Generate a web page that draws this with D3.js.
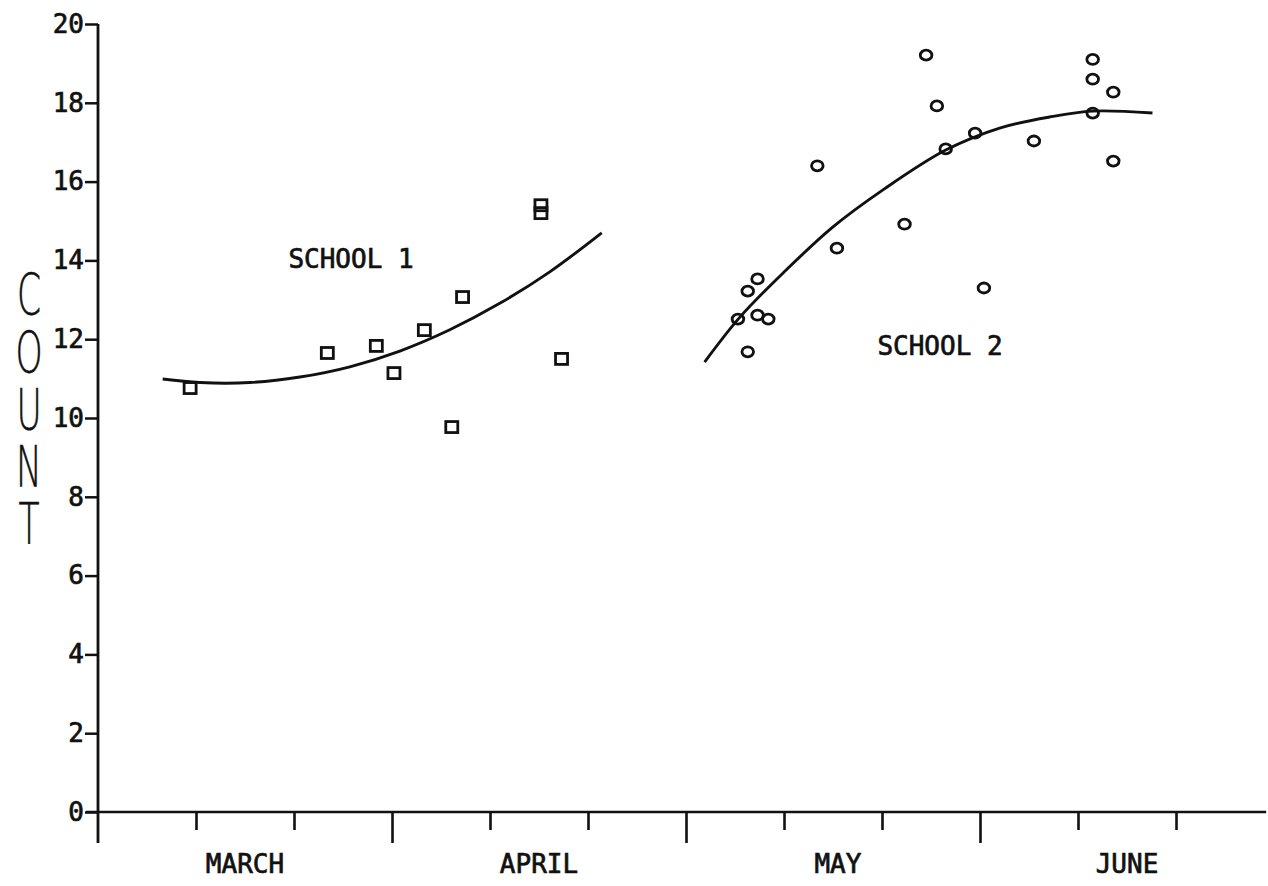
<!DOCTYPE html>
<html>
<head>
<meta charset="utf-8">
<script src="https://cdnjs.cloudflare.com/ajax/libs/d3/7.8.5/d3.min.js"></script>
<style>
	body{margin:0;background:#fff;}
	svg{display:block;}
	.tickLabel{font-family:"DejaVu Sans Mono",monospace;font-size:26px;fill:#111;stroke:#111;stroke-width:0.7px;}
	.yLabel{font-family:"DejaVu Sans",sans-serif;font-weight:200;font-size:57.5px;fill:#111;stroke:#111;stroke-width:0.6px;
		writing-mode:vertical-rl;text-orientation:upright;letter-spacing:-9.5px;}
</style>
</head>
<body>
<svg id="chart"></svg>
<script>
// x is in days from the start of March, y is the count
var yTicks = [0,2,4,6,8,10,12,14,16,18,20];
var xMinorTicks = [10,20,40,50,70,80,100,110];
var xMajorTicks = [30,60,90];
var months = ["MARCH","APRIL","MAY","JUNE"];
var monthDays = [15,45,75.5,105];

var school1Day = [9.4,23.4,28.4,30.2,33.3,37.2,36.1,45.2,45.2,47.3];
var school1Count = [10.76,11.65,11.83,11.14,12.23,13.07,9.77,15.4,15.2,11.5];
var school1FitDay = [6.6,10.4,15.5,20.6,25.7,30.8,35.9,41.0,46.1,51.4];
var school1FitCount = [10.99,10.90,10.90,11.04,11.30,11.70,12.24,12.91,13.71,14.70];

var school2Day = [84.5,101.5,101.5,103.6,85.6,101.5,89.5,95.5,86.5,103.6,73.4,82.3,75.4,90.4,67.3,66.3,67.3,68.4,65.3,66.3];
var school2Count = [19.21,19.1,18.6,18.27,17.92,17.74,17.23,17.03,16.83,16.52,16.40,14.92,14.31,13.30,13.53,13.22,12.61,12.51,12.51,11.68];
var school2FitDay = [61.9,65.5,69.9,75.0,80.1,86.5,92.0,97.1,101.5,107.6];
var school2FitCount = [11.42,12.56,13.68,14.85,15.79,16.80,17.36,17.64,17.79,17.74];

var Chart = (function(){
	var width = 1268, height = 886, svg, x, y;

	var setup = function(){
		svg = d3.select("#chart").attr("width",width).attr("height",height);
		x = d3.scaleLinear().domain([0,120]).range([98,1274]);
		y = d3.scaleLinear().domain([0,20]).range([812,24]);
	}

	var zip = function(xs,ys){
		return xs.map(function(d,i){ return {x:d,y:ys[i]}; });
	}

	var drawAxes = function(){
		var yAxis = svg.append("g")
			.attr("transform","translate("+x(0)+",0)")
			.call(d3.axisLeft(y).tickValues(yTicks).tickSize(13).tickPadding(1).tickFormat(d3.format("d")));
		yAxis.select(".domain").remove();
		yAxis.selectAll("line").attr("stroke","#111").attr("stroke-width",2.5);
		yAxis.selectAll("text").attr("class","tickLabel").attr("font-size",null).attr("font-family",null);

		svg.append("line")
			.attr("x1",x(0)).attr("x2",x(0))
			.attr("y1",y(20)).attr("y2",y(0)+31)
			.attr("stroke","#111").attr("stroke-width",2.8);

		svg.append("line")
			.attr("x1",x(0)-12).attr("x2",x(119.2))
			.attr("y1",y(0)).attr("y2",y(0))
			.attr("stroke","#111").attr("stroke-width",2.6);

		[[xMinorTicks,18],[xMajorTicks,31]].forEach(function(t){
			var g = svg.append("g")
				.attr("transform","translate(0,"+y(0)+")")
				.call(d3.axisBottom(x).tickValues(t[0]).tickSize(t[1]).tickFormat(""));
			g.select(".domain").remove();
			g.selectAll("line").attr("stroke","#111").attr("stroke-width",2.6);
		});

		svg.selectAll(".month")
			.data(months)
			.enter()
			.append("text")
			.attr("class","tickLabel")
			.attr("x",function(d,i){ return x(monthDays[i]); })
			.attr("y",873)
			.attr("text-anchor","middle")
			.text(function(d){ return d; });

		// vertical upright text, one element
		svg.append("text")
			.attr("class","yLabel")
			.attr("transform","translate(29,262) scale(0.6,1)")
			.attr("x",0).attr("y",0)
			.text("COUNT");
	}

	var drawFit = function(data){
		var line = d3.line()
			.x(function(d){ return x(d.x); })
			.y(function(d){ return y(d.y); })
			.curve(d3.curveCatmullRom);
		svg.append("path")
			.attr("d",line(data))
			.attr("fill","none")
			.attr("stroke","#111")
			.attr("stroke-width",2.9);
	}

	var drawPoints = function(){
		svg.selectAll(".sq")
			.data(zip(school1Day,school1Count))
			.enter()
			.append("rect")
			.attr("x",function(d){ return x(d.x)-6; })
			.attr("y",function(d){ return y(d.y)-5.5; })
			.attr("width",12).attr("height",11)
			.attr("fill","none").attr("stroke","#111").attr("stroke-width",2.8);

		svg.selectAll(".circ")
			.data(zip(school2Day,school2Count))
			.enter()
			.append("ellipse")
			.attr("cx",function(d){ return x(d.x); })
			.attr("cy",function(d){ return y(d.y); })
			.attr("rx",5.8).attr("ry",5)
			.attr("fill","none").attr("stroke","#111").attr("stroke-width",2.8);
	}

	var drawLabels = function(){
		svg.append("text").attr("class","tickLabel")
			.attr("x",351).attr("y",y(13.8)).attr("text-anchor","middle")
			.text("SCHOOL 1");
		svg.append("text").attr("class","tickLabel")
			.attr("x",940).attr("y",y(11.6)).attr("text-anchor","middle")
			.text("SCHOOL 2");
	}

	return {
		setup : setup,
		render : function(){
			drawAxes();
			drawFit(zip(school1FitDay,school1FitCount));
			drawFit(zip(school2FitDay,school2FitCount));
			drawPoints();
			drawLabels();
		}
	}
})();

Chart.setup();
Chart.render();
</script>
</body>
</html>
